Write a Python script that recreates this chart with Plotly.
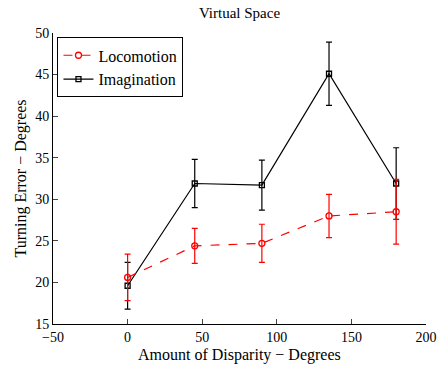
import plotly.graph_objects as go

disparity = [0, 45, 90, 135, 180]
loco_mean = [20.6, 24.4, 24.7, 28.0, 28.5]
loco_err = [2.8, 2.1, 2.3, 2.6, 3.9]
imag_mean = [19.6, 31.9, 31.7, 45.1, 31.9]
imag_err = [2.8, 2.9, 3.0, 3.8, 4.3]

xticks = [-50, 0, 50, 100, 150, 200]
yticks = [15, 20, 25, 30, 35, 40, 45, 50]

font = "Liberation Serif, Times New Roman, serif"

fig = go.Figure()
fig.add_trace(go.Scatter(
    x=disparity, y=imag_mean, name="Imagination", mode="lines+markers",
    line=dict(color="black", width=1.2),
    marker=dict(symbol="square-open", size=5, color="black", line=dict(width=1.3)),
    error_y=dict(type="data", array=imag_err, color="black", thickness=1.2, width=3),
))
fig.add_trace(go.Scatter(
    x=disparity, y=loco_mean, name="Locomotion", mode="lines+markers",
    line=dict(color="red", width=1.2, dash="dash"),
    marker=dict(symbol="circle-open", size=6, color="red", line=dict(width=1.3)),
    error_y=dict(type="data", array=loco_err, color="red", thickness=1.2, width=3),
))

fig.update_layout(
    width=439, height=365,
    margin=dict(l=53, r=13, t=33, b=41, autoexpand=False),
    paper_bgcolor="white", plot_bgcolor="white",
    font=dict(family=font, size=14, color="black"),
    title=dict(text="Virtual Space", x=0.5, xanchor="center", y=0.965, yanchor="middle",
               xref="paper", font=dict(size=15), automargin=False),
    showlegend=True,
    legend=dict(x=0.012, y=0.985, xanchor="left", yanchor="top", traceorder="reversed",
                bordercolor="black", borderwidth=1, bgcolor="white",
                font=dict(size=16), itemwidth=30, tracegroupgap=0),
    xaxis=dict(range=[-50, 200], tickvals=xticks, ticks="inside", ticklen=5,
               showline=True, linecolor="black", linewidth=1, showgrid=False,
               zeroline=False, mirror=False, tickfont=dict(size=14), automargin=False),
    yaxis=dict(range=[15, 50], tickvals=yticks, ticks="inside", ticklen=5,
               showline=True, linecolor="black", linewidth=1, showgrid=False,
               zeroline=False, mirror=False, tickfont=dict(size=14), automargin=False,
               title=dict(text="Turning Error − Degrees", font=dict(size=16), standoff=4)),
    annotations=[dict(text="Amount of Disparity − Degrees", xref="paper", yref="paper",
                      x=0.5, y=0, xanchor="center", yanchor="top", yshift=-21,
                      borderpad=0, showarrow=False, font=dict(size=16))],
)

fig.write_html("out.html")
